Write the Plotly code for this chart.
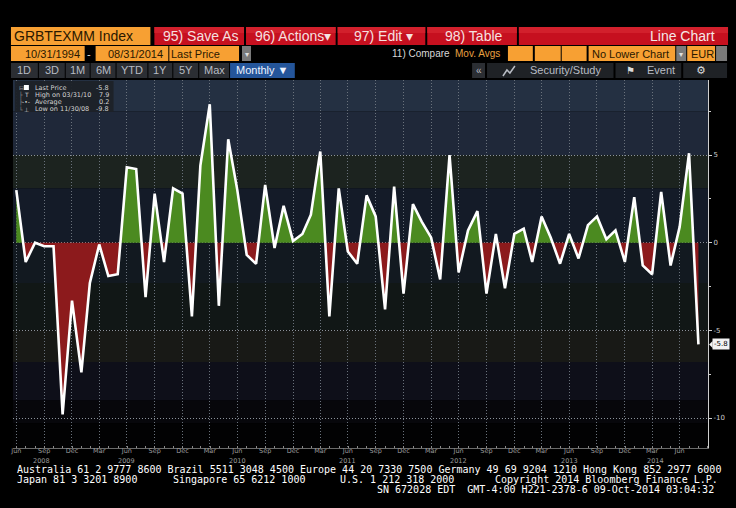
import plotly.graph_objects as go
import pandas as pd
import numpy as np

W, H = 736, 508

# ---------------- data ----------------
start_month = "2008-06-01"
values = [3.0, -1.1, 0.0, -0.2, -0.2, -9.8, -3.3, -7.4, -2.3, -0.1, -1.9, -1.8, 4.3, 4.2, -3.1, 2.8, -1.1, 3.1, 2.8,
          -4.2, 4.4, 7.9, -3.6, 5.9, 3.0, -0.7, -1.2, 3.3, -0.3, 2.1, 0.1, 0.5, 1.6, 5.2, -4.2, 3.1, -0.5, -1.2,
          2.7, 1.5, -3.8, 3.2, -2.9, 2.2, 1.2, 0.3, -2.1, 5.0, -1.7, 0.7, 1.8, -2.9, 0.5, -2.6, 0.5, 0.8, -1.1,
          1.5, 0.3, -1.2, 0.5, -0.9, 1.0, 1.5, 0.2, 0.7, -1.1, 2.6, -1.3, -1.8, 2.9, -1.3, 0.9, 5.1, -5.8]
dates = pd.date_range(start_month, periods=len(values), freq="MS") + pd.offsets.MonthEnd(0)

y_tick_vals = [-10, -5, 0, 5]
y_tick_labels = ["-10", "-5", "0", "5"]
quarter_months = [3, 6, 9, 12]
year_labels = ["2008", "2009", "2010", "2011", "2012", "2013", "2014"]
year_label_dates = ["2008-09-22", "2009-06-30", "2010-06-30", "2011-06-30", "2012-06-30", "2013-06-30", "2014-04-12"]

# ---------------- zero-crossing split for fills ----------------
t = dates.values.astype("datetime64[ns]").astype(np.int64)
v = np.array(values, dtype=float)
xs, ys = [t[0]], [v[0]]
for i in range(1, len(v)):
    if v[i - 1] * v[i] < 0:
        frac = v[i - 1] / (v[i - 1] - v[i])
        xs.append(int(t[i - 1] + frac * (t[i] - t[i - 1])))
        ys.append(0.0)
    xs.append(t[i])
    ys.append(v[i])
xs = pd.to_datetime(np.array(xs, dtype="datetime64[ns]"))
ys = np.array(ys)

fig = go.Figure()
fig.add_trace(go.Scatter(x=xs, y=np.maximum(ys, 0), mode="lines", line=dict(width=0),
                         fill="tozeroy", fillcolor="#4b8a20", hoverinfo="skip"))
fig.add_trace(go.Scatter(x=xs, y=np.minimum(ys, 0), mode="lines", line=dict(width=0),
                         fill="tozeroy", fillcolor="#8c1a1c", hoverinfo="skip"))
fig.add_trace(go.Scatter(x=dates, y=values, mode="lines", line=dict(color="#ffffff", width=2.6),
                         hoverinfo="skip"))

shapes = []
annotations = []


def P(x):
    return x / W


def Q(y):
    return 1 - y / H


def rect(x0, y0, x1, y1, color, lc=None):
    shapes.append(dict(type="rect", xref="paper", yref="paper", x0=P(x0), x1=P(x1), y0=Q(y1), y1=Q(y0),
                       fillcolor=color, line=dict(width=1 if lc else 0, color=lc or color), layer="above"))


def text(x, y, s, size, color, anchor="left", family="Liberation Sans, Arial, sans-serif"):
    annotations.append(dict(x=P(x), y=Q(y), xref="paper", yref="paper", text=s, showarrow=False,
                            xanchor=anchor, yanchor="middle", borderpad=0,
                            font=dict(size=size, color=color, family=family)))


# ---------------- background bands in plot ----------------
bands = [(7.5, 9.4, "#243042"), (5, 7.5, "#1f2839"), (3.1, 5, "#1c231f"), (0, 3.1, "#141b28"),
         (-2.3, 0, "#121920"), (-5, -2.3, "#111716"), (-6.8, -5, "#181916"), (-9, -6.8, "#0e0f19"),
         (-10.3, -9, "#07070b"), (-12, -10.3, "#020203")]
for lo, hi, c in bands:
    shapes.append(dict(type="rect", xref="paper", yref="y", x0=P(10), x1=P(708), y0=lo, y1=hi,
                       fillcolor=c, line=dict(width=0), layer="below"))

# ---------------- header ----------------
ORANGE = "#f7a033"
RED = "#c6101f"
DARK = "#2a1800"
rect(8, 27, 148, 45, ORANGE)
text(10, 36.5, "GRBTEXMM Index", 14, DARK)
for x0, x1, lab in [(152, 242, "95) Save As"), (244, 334, "96) Actions▾"), (336, 424, "97) Edit ▾"),
                    (426, 516, "98) Table")]:
    rect(x0, 27, x1, 45, RED)
    rect(x0, 27, x1, 33, "#d2202c")
    text((x0 + x1) / 2 + 2, 36.5, lab, 14, "#f6e0e0", anchor="center")
rect(518, 27, 728, 45, RED)
rect(518, 27, 728, 33, "#d2202c")
text(716, 36.5, "Line Chart", 14, "#f6e8e8", anchor="right")

# row 2
rect(8, 46, 82, 61, ORANGE)
text(21, 53.5, "10/31/1994", 11, DARK)
text(86, 53.5, "-", 11, "#dddddd", anchor="center")
rect(93, 46, 166, 61, ORANGE)
text(104, 53.5, "08/31/2014", 11, DARK)
rect(167, 46, 237, 61, ORANGE)
text(168, 53.5, "Last Price", 11, DARK)
rect(240, 46, 249, 61, "#7a7a7a")
text(244.5, 54, "▾", 8, "#e0e0e0", anchor="center")
text(390, 53.5, "11) Compare", 10, "#d8d8d8")
text(453, 53.5, "Mov. Avgs", 10, "#e8a040")
rect(507, 46, 532, 61, ORANGE)
rect(534, 46, 560, 61, ORANGE)
rect(561, 46, 586, 61, ORANGE)
rect(588, 46, 675, 61, ORANGE)
text(590, 53.5, "No Lower Chart", 11, DARK)
rect(676, 46, 686, 61, "#7a7a7a")
text(681, 54, "▾", 8, "#e0e0e0", anchor="center")
rect(687, 46, 715, 61, ORANGE)
text(690, 53.5, "EUR", 11, DARK)
rect(716, 46, 727, 61, "#7a7a7a")

# row 3
BTN = "#2b2e33"
BTXT = "#b8bcc4"
for x0, x1, lab in [(8, 35, "1D"), (36, 62, "3D"), (63, 87, "1M"), (88, 113, "6M"), (114, 145, "YTD"),
                    (146, 170, "1Y"), (171, 196, "5Y"), (197, 227, "Max")]:
    rect(x0, 63, x1, 78, BTN)
    text((x0 + x1) / 2, 70.5, lab, 11, BTXT, anchor="center")
rect(228, 63, 293, 78, "#24559a")
text(233, 70.5, "Monthly ▼", 11, "#eef3ff")
rect(471, 63, 484, 78, BTN)
text(477.5, 70.5, "«", 10, BTXT, anchor="center")
rect(486, 63, 613, 78, "#1f2226")
text(528, 70.5, "Security/Study", 11, BTXT)
shapes.append(dict(type="path", xref="paper", yref="paper",
                   path=f"M {P(502)},{Q(76)} L {P(506)},{Q(70)} L {P(509)},{Q(73)} L {P(514)},{Q(66)}",
                   line=dict(color=BTXT, width=1.5), layer="above"))
rect(615, 63, 681, 78, "#1f2226")
text(630, 70.5, "⚑", 10, "#dcdcdc", anchor="center")
text(646, 70.5, "Event", 11, BTXT)
rect(683, 63, 727, 78, "#1f2226")
text(701, 70.5, "⚙", 11, "#dcdcdc", anchor="center", family="DejaVu Sans")

# ---------------- legend box ----------------
rect(12, 81, 111, 112, "rgba(30,34,40,0.95)")
LT = "#d4d4d4"
LF = "DejaVu Sans, sans-serif"
leg_rows = [("Last Price", values[-1]),
            ("High on " + dates[int(np.argmax(v))].strftime("%m/%d/%y"), max(values)),
            ("Average", float(np.mean(v))),
            ("Low on " + dates[int(np.argmin(v))].strftime("%m/%d/%y"), min(values))]
icons = ["", "T", "-•-", "⊥"]
tree = ["⊟", "├", "├", "└"]
for k, ((lab, val), ic, tr) in enumerate(zip(leg_rows, icons, tree)):
    yy = 87.5 + 7.2 * k
    text(15, yy, tr, 6, "#9a9a9a", family=LF)
    if k == 0:
        rect(21, yy - 2.5, 26, yy + 2.5, "#ffffff")
    else:
        text(23.5, yy, ic, 6, LT, anchor="center", family=LF)
    text(31, yy, lab, 6.5, LT, family=LF)
    text(107, yy, f"{val:.1f}", 6.5, LT, anchor="right", family=LF)

# ---------------- price tag ----------------
last = values[-1]
annotations.append(dict(x=P(712), y=last, xref="paper", yref="y", text=f"{last:.1f}", showarrow=False,
                        xanchor="left", yanchor="middle", bgcolor="#f2f2f2", borderpad=1,
                        font=dict(size=7, color="#000000", family=LF)))
shapes.append(dict(type="path", xref="paper", yref="y",
                   path=f"M {P(709)},{last} L {P(712.5)},{last + 0.2} L {P(712.5)},{last - 0.2} Z",
                   fillcolor="#f2f2f2", line=dict(width=0), layer="above"))

# ---------------- year labels ----------------
for lab, d in zip(year_labels, year_label_dates):
    annotations.append(dict(x=d, y=Q(460.5), xref="x", yref="paper", text=lab, showarrow=False,
                            xanchor="center", yanchor="middle", borderpad=0,
                            font=dict(size=6.5, color="#9c9c9c", family=LF)))

# ---------------- footer ----------------
MONO = "DejaVu Sans Mono, Liberation Mono, monospace"
text(13, 469, "Australia 61 2 9777 8600 Brazil 5511 3048 4500 Europe 44 20 7330 7500 Germany 49 69 9204 1210 Hong Kong 852 2977 6000",
     10, "#ffffff", family=MONO)
text(13, 479, "Japan 81 3 3201 8900", 10, "#ffffff", family=MONO)
text(170, 479, "Singapore 65 6212 1000", 10, "#ffffff", family=MONO)
text(337, 479, "U.S. 1 212 318 2000", 10, "#ffffff", family=MONO)
text(493, 479, "Copyright 2014 Bloomberg Finance L.P.", 10, "#ffffff", family=MONO)
text(715, 489, "SN 672028 EDT\u00a0 GMT-4:00 H221-2378-6 09-Oct-2014 03:04:32", 10, "#ffffff",
     anchor="right", family=MONO)

# ---------------- axes ----------------
qdates = [d for d in dates if d.month in quarter_months]
qlabels = [d.strftime("%b") for d in qdates]

fig.update_layout(
    width=W, height=H,
    margin=dict(l=0, r=0, t=0, b=0),
    paper_bgcolor="#000000",
    plot_bgcolor="#000000",
    showlegend=False,
    hovermode=False,
    shapes=shapes,
    annotations=annotations,
    xaxis=dict(
        domain=[P(10), P(708)],
        type="date",
        range=[dates[0] - pd.Timedelta(days=11), dates[-1] + pd.Timedelta(days=32)],
        tickvals=qdates, ticktext=qlabels,
        tickfont=dict(size=6.5, color="#9c9c9c", family=LF),
        ticks="outside", ticklen=1, tickcolor="#000000",
        ticklabelstandoff=-5,
        showgrid=True, gridcolor="#6a727c", griddash="1px,2px", gridwidth=1,
        showline=True, linecolor="#6a6a6a", linewidth=1,
        minor=dict(dtick="M1", ticks="inside", ticklen=2, tickcolor="#8a8a8a", showgrid=False),
        zeroline=False, fixedrange=True,
    ),
    yaxis=dict(
        domain=[Q(448), Q(80)],
        side="right",
        range=[-11.71, 9.28],
        tickvals=y_tick_vals, ticktext=y_tick_labels,
        tickfont=dict(size=7, color="#cfcfcf", family=LF),
        ticks="outside", ticklen=3, tickcolor="#cfcfcf",
        showgrid=True, gridcolor="#8c939b", griddash="1px,2px", gridwidth=1,
        showline=True, linecolor="#cfcfcf", linewidth=1,
        minor=dict(dtick=2.5, tick0=0, ticks="outside", ticklen=2, tickcolor="#cfcfcf", showgrid=False),
        zeroline=False, fixedrange=True,
    ),
)

fig.write_html("out.html", config={"displayModeBar": False},
               post_script="document.body.style.margin='0';document.body.style.overflow='hidden';")
